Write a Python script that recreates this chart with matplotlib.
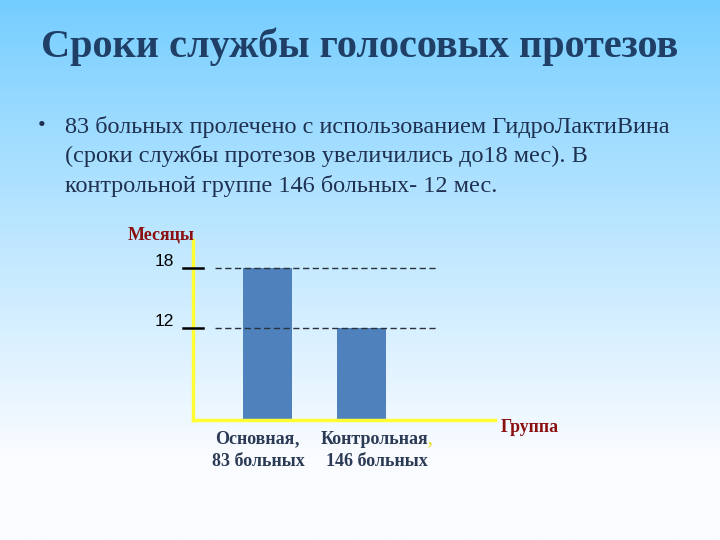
import numpy as np
import matplotlib.pyplot as plt

# data
groups = ["Основная", "Контрольная"]
patients = ["83 больных", "146 больных"]
months = [18, 12]
ticks = [18, 12]

title = "Сроки службы голосовых протезов"
bullet_lines = ["83 больных пролечено с использованием ГидроЛактиВина",
                "(сроки службы протезов увеличились до18 мес). В",
                "контрольной группе 146 больных- 12 мес."]

W, H = 720, 540
fig = plt.figure(figsize=(W / 100, H / 100), dpi=100)

# background gradient (light blue -> white)
bg = fig.add_axes([0, 0, 1, 1])
t = np.linspace(0, 1, 256)[:, None]
top = np.array([115, 205, 255]) / 255
bot = np.array([250, 252, 255]) / 255
k = np.clip(t / 0.85, 0, 1) ** 0.9
grad = top * (1 - k[..., None]) + bot * k[..., None]
grad = np.repeat(grad, 2, axis=1)
bg.imshow(grad, aspect="auto", extent=[0, 1, 0, 1], origin="upper")
bg.set_axis_off()

serif = "Liberation Serif"
dark_red = "#8b1010"
label_col = "#2b3a55"

fig.text(0.5, 1 - 47 / H, title, ha="center", va="center", fontsize=29,
         fontweight="bold", family=serif, color="#1f3f66")

fig.text(38 / W, 1 - 127 / H, "•", ha="left", va="center", fontsize=16,
         family=serif, color="#1f3050")
for i, line in enumerate(bullet_lines):
    fig.text(65 / W, 1 - (127 + 29.5 * i) / H, line, ha="left", va="center",
             fontsize=17.5, family=serif, color="#1f3050")

# chart axes in pixel terms
x0, x1, y0, y1 = 193, 495, 240, 420
ax = fig.add_axes([x0 / W, 1 - y1 / H, (x1 - x0) / W, (y1 - y0) / H])
ax.patch.set_alpha(0)
xs = np.arange(len(months))
ax.bar(xs, months, width=0.524, color="#4f81bd", zorder=2)
ax.set_xlim(-0.797, 2.433)
ax.set_ylim(2.8, 20.8)

for v in ticks:
    ax.plot([-0.561, 1.802], [v, v], ls=(0, (4.5, 2.5)), color="#2a313a", lw=1.0, zorder=3)
    ax.plot([-0.904, -0.69], [v, v], color="black", lw=1.8, clip_on=False, zorder=4)
    ax.text(-1.0, v + 0.6, str(v), ha="right", va="center", fontsize=12.5,
            family="Liberation Sans", color="black")

for s in ["top", "right"]:
    ax.spines[s].set_visible(False)
for s in ["left", "bottom"]:
    ax.spines[s].set_color("#ffff33")
    ax.spines[s].set_linewidth(2.5)
ax.set_xticks([])
ax.set_yticks([])

# group labels (comma after the second one is yellow in the original)
label_x = [258, 377]
comma_col = [label_col, "#e8e040"]
for lx, g, p, cc in zip(label_x, groups, patients, comma_col):
    t1 = fig.text(lx / W - 0.004, 1 - 440 / H, g, ha="center", va="center",
                  fontsize=13, fontweight="bold", family=serif, color=label_col)
    ax.annotate(",", xy=(1, 0), xycoords=t1, ha="left", va="bottom",
                fontsize=13, fontweight="bold", family=serif, color=cc,
                annotation_clip=False)
    fig.text(lx / W, 1 - 461 / H, p, ha="center", va="center", fontsize=13,
             fontweight="bold", family=serif, color=label_col)

fig.text(501 / W, 1 - 428 / H, "Группа", ha="left", va="center", fontsize=12.8,
         fontweight="bold", family=serif, color=dark_red)
fig.text(128 / W, 1 - 235 / H, "Месяцы", ha="left", va="center", fontsize=13,
         fontweight="bold", family=serif, color=dark_red)

fig.savefig("out.png", dpi=100)
